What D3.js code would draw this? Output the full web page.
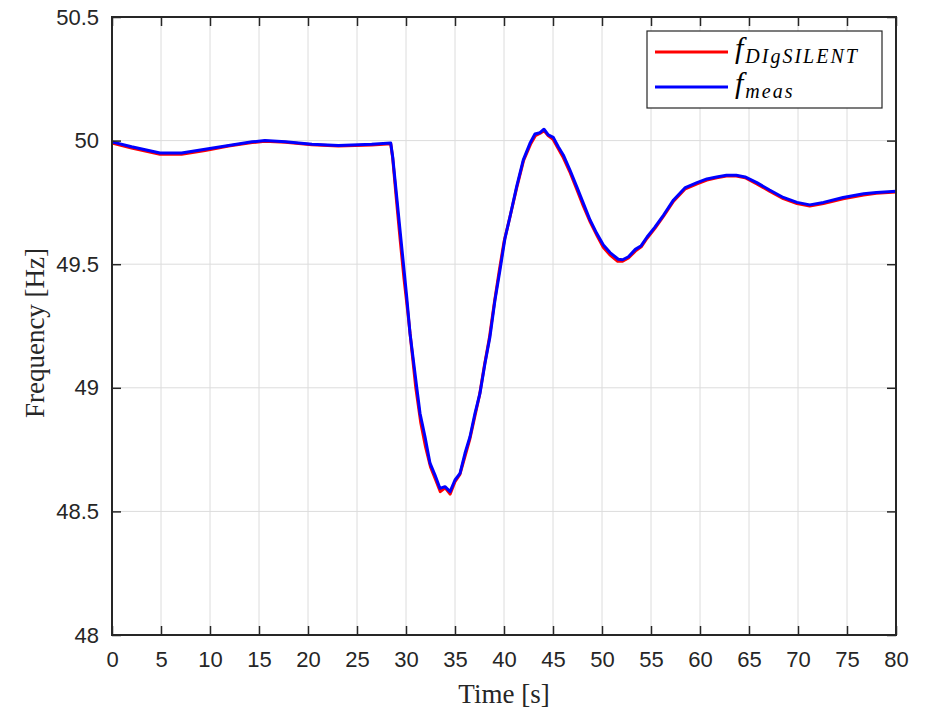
<!DOCTYPE html>
<html>
<head>
<meta charset="utf-8">
<script src="https://cdn.jsdelivr.net/npm/d3@7"></script>
<style>
  body { margin: 0; background: #fff; }
  svg { display: block; }
  .tick text { font-family: "Liberation Sans", Arial, sans-serif; font-size: 22px; fill: #262626; }
</style>
</head>
<body>
<svg id="chart" width="927" height="712"></svg>
<script>
// measured frequency (blue)
var tMeas = [0, 2, 4.9, 7.1, 9.5, 11.9, 14.3, 15.6, 17.7, 20.4, 23.1, 26.5, 28.44, 28.64, 29.05, 29.39, 29.73, 30.07, 30.41,
  30.75, 31.09, 31.43, 31.94, 32.45, 32.96, 33.47, 33.98, 34.5, 35.0, 35.51, 36.02, 36.53, 37.04, 37.55, 38.06, 38.57,
  39.08, 39.59, 40.1, 40.61, 41.29, 41.97, 42.65, 43.16, 43.67, 44.08, 44.52, 45.03, 45.54, 46.05, 46.73, 47.42, 48.1,
  48.78, 49.46, 50.14, 50.82, 51.66, 52.1, 52.7, 53.4, 54.0, 54.6, 55.4, 56.3, 57.3, 58.5, 59.7, 60.7, 61.7, 62.7, 63.7,
  64.6, 65.8, 67.1, 68.5, 69.9, 71.2, 72.6, 74.6, 76.7, 78.0, 80];
var fMeas = [49.995, 49.975, 49.95, 49.95, 49.965, 49.98, 49.995, 50.0, 49.995, 49.985, 49.98, 49.985, 49.99, 49.935,
  49.773, 49.638, 49.504, 49.369, 49.22, 49.112, 49.004, 48.897, 48.802, 48.695, 48.647, 48.593, 48.6, 48.58, 48.627,
  48.654, 48.735, 48.802, 48.897, 48.978, 49.099, 49.207, 49.355, 49.477, 49.605, 49.692, 49.814, 49.922, 49.989, 50.027,
  50.032, 50.046, 50.023, 50.013, 49.975, 49.942, 49.881, 49.814, 49.746, 49.679, 49.625, 49.578, 49.547, 49.52, 49.518,
  49.53, 49.56, 49.575, 49.61, 49.65, 49.7, 49.76, 49.81, 49.83, 49.845, 49.853, 49.86, 49.86, 49.853, 49.83, 49.8,
  49.77, 49.75, 49.74, 49.75, 49.77, 49.785, 49.79, 49.795];

// DIgSILENT simulation (red)
var tSim = [0, 2, 4.9, 7.1, 9.5, 11.9, 14.3, 15.6, 17.7, 20.4, 23.1, 26.5, 28.44, 28.64, 29.0, 29.4, 29.8, 30.2, 30.6,
  31.0, 31.5, 32.0, 32.5, 33.0, 33.5, 34.0, 34.5, 35.0, 35.5, 36.0, 36.5, 37.0, 37.5, 38.0, 38.5, 39.0, 39.5, 40.0, 40.6,
  41.3, 42.0, 42.7, 43.2, 43.7, 44.1, 44.5, 45.0, 45.5, 46.0, 46.7, 47.4, 48.1, 48.8, 49.5, 50.1, 50.8, 51.6, 52.1,
  52.7, 53.4, 54.0, 54.6, 55.4, 56.3, 57.3, 58.5, 59.7, 60.7, 61.7, 62.7, 63.7, 64.6, 65.8, 67.1, 68.5, 69.9, 71.2, 72.6,
  74.6, 76.7, 78.0, 80];
var fSim = [49.99, 49.97, 49.945, 49.945, 49.96, 49.978, 49.992, 49.997, 49.993, 49.983, 49.978, 49.982, 49.987, 49.93,
  49.77, 49.6, 49.44, 49.3, 49.15, 49.0, 48.86, 48.76, 48.68, 48.63, 48.58, 48.595, 48.57, 48.62, 48.65, 48.72, 48.79,
  48.88, 48.97, 49.09, 49.2, 49.34, 49.47, 49.59, 49.69, 49.81, 49.92, 49.985, 50.02, 50.03, 50.04, 50.02, 50.005, 49.97,
  49.935, 49.875, 49.805, 49.735, 49.67, 49.615, 49.57, 49.538, 49.512, 49.512, 49.525, 49.553, 49.57, 49.605, 49.645,
  49.695, 49.755, 49.805, 49.825, 49.84, 49.85, 49.857, 49.857, 49.85, 49.825, 49.795, 49.765, 49.745, 49.735, 49.745,
  49.765, 49.78, 49.787, 49.792];

var xTicks = d3.range(0, 81, 5);
var yTicks = [48, 48.5, 49, 49.5, 50, 50.5];
var yTickLabels = ["48", "48.5", "49", "49.5", "50", "50.5"];

var plotL = 112, plotR = 896, plotT = 17, plotB = 635;
var axisColor = "#262626";

var svg = d3.select("#chart");

var x = d3.scaleLinear().domain([0, 80]).range([plotL, plotR]);
var y = d3.scaleLinear().domain([48, 50.5]).range([plotB, plotT]);

// grid
var grid = svg.append("g");
grid.selectAll(".gx").data(xTicks.slice(1, -1)).enter().append("line")
    .attr("x1", function(d) { return x(d); }).attr("x2", function(d) { return x(d); })
    .attr("y1", plotT).attr("y2", plotB)
    .style("stroke", "#dcdcdc").style("stroke-width", 1);
grid.selectAll(".gy").data(yTicks.slice(1, -1)).enter().append("line")
    .attr("y1", function(d) { return y(d); }).attr("y2", function(d) { return y(d); })
    .attr("x1", plotL).attr("x2", plotR)
    .style("stroke", "#dcdcdc").style("stroke-width", 1);

// lines
var line = d3.line()
    .x(function(d) { return x(d[0]); })
    .y(function(d) { return y(d[1]); })
    .curve(d3.curveLinear);

svg.append("path")
    .datum(d3.zip(tSim, fSim))
    .attr("d", line)
    .style("fill", "none").style("stroke", "#ff0000").style("stroke-width", 3)
    .style("stroke-linejoin", "round");

svg.append("path")
    .datum(d3.zip(tMeas, fMeas))
    .attr("d", line)
    .style("fill", "none").style("stroke", "#0000ff").style("stroke-width", 3)
    .style("stroke-linejoin", "round");

// axes (ticks inward, box on)
function styleAxis(g) {
  g.select(".domain").remove();
  g.selectAll(".tick line").style("stroke", axisColor).style("stroke-width", 1.5);
}

svg.append("g")
    .attr("transform", "translate(0," + plotB + ")")
    .call(d3.axisBottom(x).tickValues(xTicks).tickSize(-9).tickPadding(16).tickFormat(d3.format("d")))
    .call(styleAxis);
svg.append("g")
    .attr("transform", "translate(0," + plotT + ")")
    .call(d3.axisTop(x).tickValues(xTicks).tickSize(-9).tickFormat(""))
    .call(styleAxis);
svg.append("g")
    .attr("transform", "translate(" + plotL + ",0)")
    .call(d3.axisLeft(y).tickValues(yTicks).tickSize(-9).tickPadding(13)
      .tickFormat(function(d, i) { return yTickLabels[i]; }))
    .call(styleAxis);
svg.append("g")
    .attr("transform", "translate(" + plotR + ",0)")
    .call(d3.axisRight(y).tickValues(yTicks).tickSize(-9).tickFormat(""))
    .call(styleAxis);

svg.append("rect")
    .attr("x", plotL).attr("y", plotT)
    .attr("width", plotR - plotL).attr("height", plotB - plotT)
    .style("fill", "none").style("stroke", axisColor).style("stroke-width", 2);

// axis titles
svg.append("text")
    .attr("x", (plotL + plotR) / 2).attr("y", 703)
    .attr("text-anchor", "middle")
    .style("font-family", "'Liberation Serif', 'Times New Roman', serif")
    .style("font-size", "27px").style("fill", axisColor)
    .text("Time [s]");

svg.append("text")
    .attr("transform", "translate(44," + 333 + ") rotate(-90)")
    .attr("text-anchor", "middle")
    .style("font-family", "'Liberation Serif', 'Times New Roman', serif")
    .style("font-size", "27px").style("fill", axisColor)
    .text("Frequency [Hz]");

// legend
var legend = svg.append("g");
legend.append("rect")
    .attr("x", 647).attr("y", 31).attr("width", 235).attr("height", 77)
    .style("fill", "#fff").style("stroke", axisColor).style("stroke-width", 1.2);

var legendItems = [
  {color: "#ff0000", sub: "DIgSILENT", ly: 52},
  {color: "#0000ff", sub: "meas", ly: 87}
];
legendItems.forEach(function(it) {
  legend.append("line")
      .attr("x1", 655).attr("x2", 728).attr("y1", it.ly).attr("y2", it.ly)
      .style("stroke", it.color).style("stroke-width", 3);
  var t = legend.append("text")
      .attr("x", 735).attr("y", it.ly + 6)
      .style("font-family", "'Liberation Serif', 'Times New Roman', serif")
      .style("font-style", "italic").style("fill", "#000");
  t.append("tspan").style("font-size", "30px").text("f");
  t.append("tspan").attr("dy", 5).attr("dx", 2)
      .style("font-size", "20px").style("letter-spacing", "2px").text(it.sub);
});
</script>
</body>
</html>
